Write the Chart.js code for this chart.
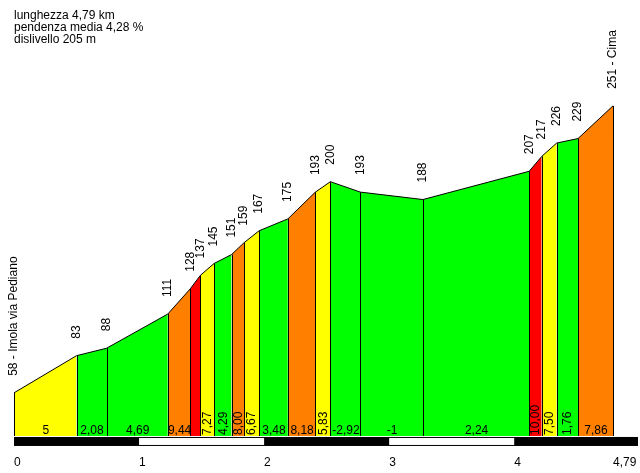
<!DOCTYPE html>
<html>
<head>
<meta charset="utf-8">
<script src="https://cdn.jsdelivr.net/npm/chart.js@4"></script>
<style>
  body { margin: 0; background: #fff; }
  canvas { display: block; }
</style>
</head>
<body>
<canvas id="profile" width="640" height="473"></canvas>
<script>
// climb profile data
const distances = [0, 0.5, 0.74, 1.23, 1.41, 1.49, 1.60, 1.74, 1.84, 1.96, 2.19, 2.41, 2.53, 2.77, 3.27, 4.12, 4.22, 4.34, 4.51, 4.79];
const elevations = [58, 83, 88, 111, 128, 137, 145, 151, 159, 167, 175, 193, 200, 193, 188, 207, 217, 226, 229, 251];
const placeNames = ['Imola via Pediano', '', '', '', '', '', '', '', '', '', '', '', '', '', '', '', '', '', '', 'Cima'];
const gradientLabels = ['5', '2,08', '4,69', '9,44', '', '7,27', '4,29', '8,00', '6,67', '3,48', '8,18', '5,83', '-2,92', '-1', '2,24', '10,00', '7,50', '1,76', '7,86'];
const kmTicks = [0, 1, 2, 3, 4, 4.79];
const headerLines = ['lunghezza 4,79 km', 'pendenza media 4,28 %', 'dislivello 205 m'];
const baseElevation = 29;

const FONT = '12px Arial, "Liberation Sans", sans-serif';

function gradientColor(i) {
    let g = (elevations[i + 1] - elevations[i]) / ((distances[i + 1] - distances[i]) * 1000) * 100;
    if (g >= 10) return '#ff0000';
    if (g >= 7.75) return '#ff8000';
    if (g >= 5) return '#ffff00';
    return '#00ff00';
}

const profileExtras = {
    id: 'profileExtras',
    afterDatasetsDraw(chart) {
        const ctx = chart.ctx;
        const xs = chart.scales.x;
        const ys = chart.scales.y;
        const baseY = ys.getPixelForValue(baseElevation);

        ctx.save();
        // vertical separators
        ctx.strokeStyle = '#000';
        ctx.lineWidth = 1;
        for (let i = 0; i < distances.length; i++) {
            let px = Math.round(xs.getPixelForValue(distances[i])) + 0.5;
            ctx.beginPath();
            ctx.moveTo(px, ys.getPixelForValue(elevations[i]));
            ctx.lineTo(px, baseY);
            ctx.stroke();
        }

        // gradient labels
        ctx.font = FONT;
        ctx.fillStyle = '#000';
        for (let i = 0; i < gradientLabels.length; i++) {
            let x0 = xs.getPixelForValue(distances[i]);
            let x1 = xs.getPixelForValue(distances[i + 1]);
            let w = x1 - x0;
            let label = gradientLabels[i];
            if (!label || w < 11) continue;
            let cx = (x0 + x1) / 2 + 0.5;
            if (w < 22) {
                ctx.save();
                ctx.translate(cx, baseY - 1);
                ctx.rotate(-Math.PI / 2);
                ctx.textAlign = 'left';
                ctx.textBaseline = 'middle';
                ctx.fillText(label, 0, 0);
                ctx.restore();
            } else {
                ctx.textAlign = 'center';
                ctx.textBaseline = 'alphabetic';
                ctx.fillText(label, cx, baseY - 2);
            }
        }

        // elevation labels
        for (let i = 0; i < elevations.length; i++) {
            let px = xs.getPixelForValue(distances[i]);
            let py = ys.getPixelForValue(elevations[i]);
            let text = placeNames[i] ? `${elevations[i]} - ${placeNames[i]}` : `${elevations[i]}`;
            ctx.save();
            ctx.translate(px, py - 17);
            ctx.rotate(-Math.PI / 2);
            ctx.textAlign = 'left';
            ctx.textBaseline = 'middle';
            ctx.fillText(text, 0, 0);
            ctx.restore();
        }

        // km bar
        const barTop = baseY + 1;
        ctx.fillStyle = '#000';
        ctx.fillRect(chart.chartArea.left, barTop, chart.chartArea.right - chart.chartArea.left, 9);
        ctx.fillStyle = '#fff';
        for (let k = 1; k < 4; k += 2) {
            let a = xs.getPixelForValue(k);
            let b = xs.getPixelForValue(k + 1);
            ctx.fillRect(a, barTop + 1, b - a, 7);
        }

        // header
        ctx.fillStyle = '#000';
        ctx.textAlign = 'left';
        ctx.textBaseline = 'alphabetic';
        headerLines.forEach((line, i) => ctx.fillText(line, 14, 19 + i * 12));
        ctx.restore();
    }
};

const points = distances.map((d, i) => ({x: d, y: elevations[i]}));

new Chart(document.getElementById('profile'), {
    type: 'line',
    data: {
        datasets: [{
            data: points,
            borderColor: '#000',
            borderWidth: 1,
            pointRadius: 0,
            tension: 0,
            fill: {value: baseElevation},
            backgroundColor: '#00ff00',
            segment: {
                backgroundColor: c => gradientColor(c.p0DataIndex),
            },
        }],
    },
    options: {
        responsive: false,
        animation: false,
        devicePixelRatio: 1,
        layout: {
            padding: {left: 14, right: 2, top: 0, bottom: 3.6},
        },
        plugins: {
            legend: {display: false},
            tooltip: {enabled: false},
        },
        scales: {
            x: {
                type: 'linear',
                min: 0,
                max: 4.99,
                afterBuildTicks: axis => {
                    axis.ticks = kmTicks.map(v => ({value: v}));
                },
                grid: {display: false, drawTicks: false},
                border: {display: false},
                ticks: {
                    align: 'start',
                    padding: 0,
                    maxRotation: 0,
                    color: '#000',
                    font: {family: 'Arial, "Liberation Sans", sans-serif', size: 12},
                    callback: value => String(value).replace('.', ','),
                },
            },
            y: {
                display: false,
                min: 16.2,
                max: 322.2,
            },
        },
    },
    plugins: [profileExtras],
});
</script>
</body>
</html>
